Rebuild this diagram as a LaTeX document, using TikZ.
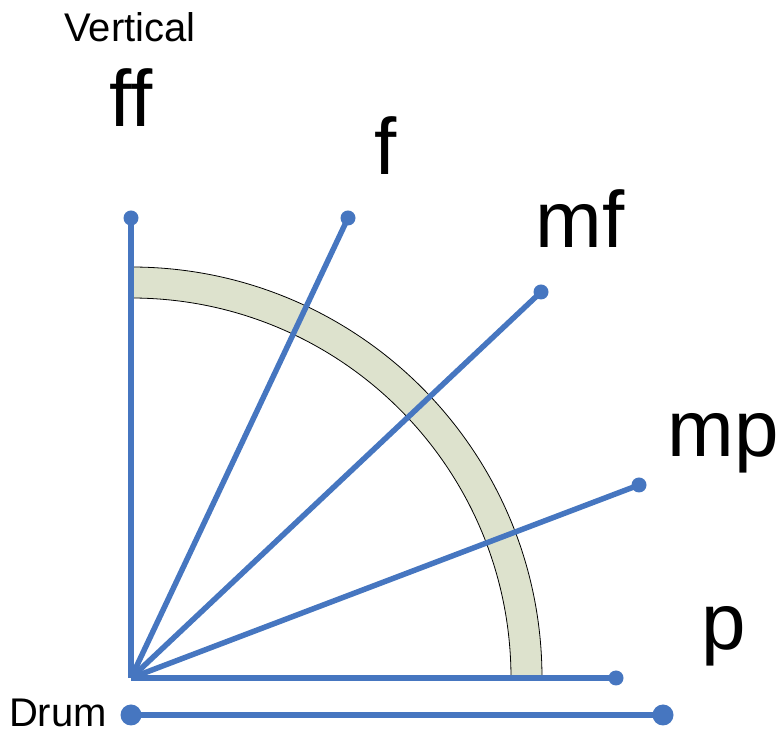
\documentclass[tikz,border=0pt]{standalone}
\usepackage{fontspec}
\setmainfont{Liberation Sans}
\usetikzlibrary{positioning}
\definecolor{lineblue}{RGB}{70,118,192}
\definecolor{bandgreen}{RGB}{221,226,205}

\begin{document}
\begin{tikzpicture}[x=1pt,y=1pt,
  ray/.style={draw=lineblue,line width=5.5pt},
  tipdot/.style={circle,fill=lineblue,inner sep=0pt,minimum size=15pt},
  bigdot/.style={circle,fill=lineblue,inner sep=0pt,minimum size=21pt},
  biglabel/.style={anchor=base,inner sep=0pt,font=\fontsize{80}{96}\selectfont},
  smalllabel/.style={anchor=base,inner sep=0pt,text depth=0pt,font=\fontsize{40}{48}\selectfont}]
\useasboundingbox (0,0) rectangle (780,731);
% band between the two radii
\fill[bandgreen,draw=black,line width=0.8pt] (131+380,53) arc[start angle=0,end angle=90,radius=380]
  -- (131,53+411) arc[start angle=90,end angle=0,radius=411] -- cycle;
\coordinate (o) at (131,53);
\node[tipdot] (vert) at (131,513) {};
\node[tipdot] (f)    at (348,513) {};
\node[tipdot] (mf)   at (541,439) {};
\node[tipdot] (mp)   at (639,246) {};
\node[tipdot] (p)    at (616,53)  {};
\foreach \n in {vert,f,mf,mp,p}
  \draw[ray] (o) -- (\n.center);
% drum line
\node[bigdot] (d1) at (131,16) {};
\node[bigdot] (d2) at (663,16) {};
\draw[ray] (d1.center) -- (d2.center);
% labels
\node[smalllabel] (lvert) at (130,689) {Vertical};
\node[biglabel] (lff) at (131,604) {ff};
\node[biglabel] (lf)  at (386,556) {f};
\node[biglabel] (lmf) at (580,483) {mf};
\node[biglabel] (lmp) at (723,274) {mp};
\node[biglabel] (lp)  at (724,81)  {p};
\node[smalllabel,anchor=base east] (ldrum) at (107,4) {Drum};
\end{tikzpicture}
\end{document}
